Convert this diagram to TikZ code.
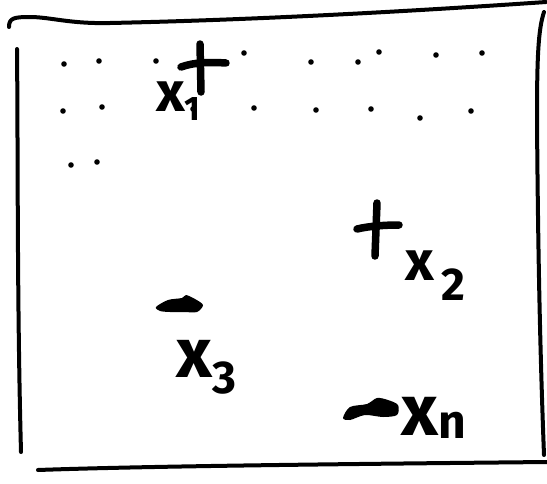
\documentclass[tikz,border=0pt]{standalone}
\usepackage{fontspec}
\setmainfont{Fira Sans}
\begin{document}
\begin{tikzpicture}[x=1pt,y=-1pt,
  frame/.style={line width=4pt,line cap=round,line join=round},
  markstroke/.style={line width=7.5pt,line cap=round},
  lab/.style={inner sep=0pt,anchor=base west}]
\useasboundingbox (0,0) rectangle (547,483);
% frame
\draw[frame] (9,27) .. controls (9,18) and (14,17) .. (30,17) .. controls (50,17) and (70,24) .. (110,23) .. controls (250,20) and (400,12) .. (546,2);
\draw[frame] (17,49) .. controls (18,150) and (17,300) .. (21,452);
\draw[frame] (544,12) .. controls (538,30) and (537,60) .. (537,120) .. controls (538,250) and (540,350) .. (544,455);
\draw[frame] (38,470) .. controls (150,466) and (350,464) .. (547,462);
% dots
\foreach \p in {(64,64),(99,61),(156,61),(244,53),(311,62),(358,62),(379,52),(436,55),(482,53),
  (63,111),(102,107),(193,109),(254,108),(316,110),(371,109),(420,118),(471,111),
  (71,165),(97,162)}
  \fill \p circle (2.8);
% x1 plus
\draw[markstroke] (200,44) -- (201,92);
\draw[markstroke] (181,67) .. controls (195,62) and (210,62) .. (226,63);
% x2 plus
\draw[markstroke] (377,203) -- (375,256);
\draw[markstroke] (357,229) .. controls (370,226) and (385,225) .. (399,225);
% blobs
\fill plot[smooth cycle] coordinates {(156,307) (168,300) (182,298) (186,295) (195,299) (203,305) (197,312) (184,312) (170,312) (160,311)};
\fill plot[smooth cycle] coordinates {(343,418) (350,407) (367,404) (377,398) (388,400) (398,405) (397,415) (383,417) (365,415) (350,420)};
% labels
\node[lab,font=\fontsize{56}{56}\selectfont\bfseries] (x1) at (156,111) {x\raisebox{-9pt}{\fontsize{34}{34}\selectfont 1}};
\node[lab,font=\fontsize{56}{56}\selectfont\bfseries] (x2) at (405,280) {x\hspace{8pt}\raisebox{-20pt}{\fontsize{46}{46}\selectfont 2}};
\node[lab,font=\fontsize{70}{70}\selectfont\bfseries] (x3) at (176,377) {x\raisebox{-16pt}{\fontsize{46}{46}\selectfont 3}};
\node[lab,font=\fontsize{72}{72}\selectfont\bfseries] (xn) at (401,435) {x\raisebox{-3pt}{\fontsize{48}{48}\selectfont n}};
\end{tikzpicture}
\end{document}
